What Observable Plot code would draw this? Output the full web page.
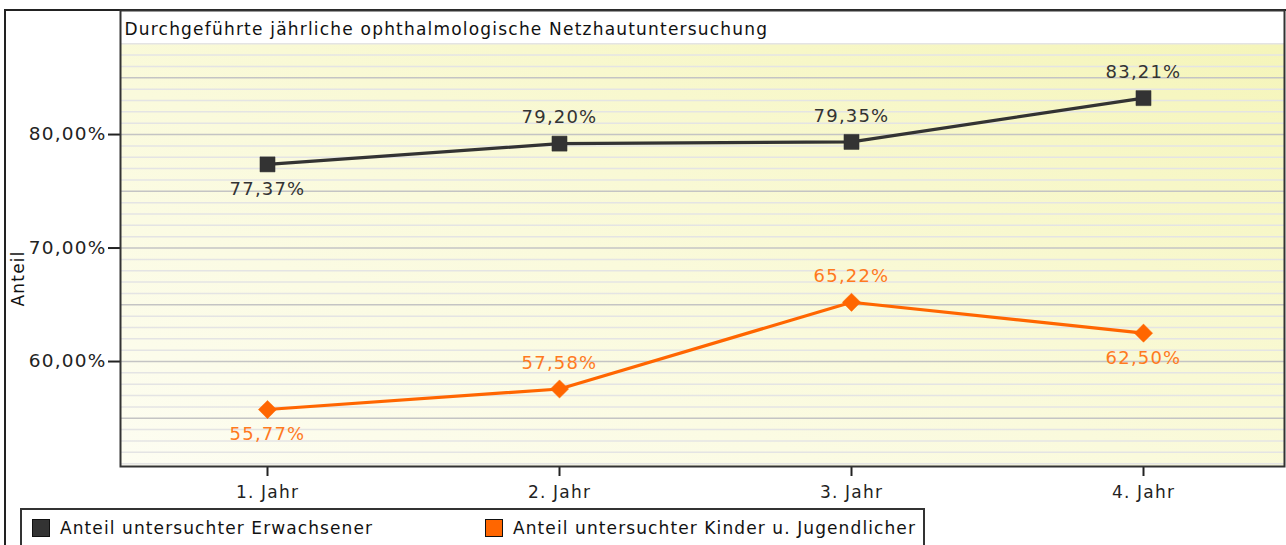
<!DOCTYPE html>
<html>
<head>
<meta charset="utf-8">
<script src="https://cdn.jsdelivr.net/npm/d3@7"></script>
<script src="https://cdn.jsdelivr.net/npm/@observablehq/plot@0.6"></script>
<style>
  html, body { margin: 0; padding: 0; background: #fff; }
  body { width: 1286px; height: 545px; position: relative; overflow: hidden; font-family: "DejaVu Sans", sans-serif; }
  #outer { position: absolute; left: 4px; top: 9px; width: 1300px; height: 600px; border: 2px solid #222; box-sizing: border-box; }
  #chart { position: absolute; left: 0; top: 0; }
  #legend { position: absolute; left: 20px; top: 508px; width: 905px; height: 60px; border: 2px solid #333; box-sizing: border-box; background: #fff; }
  .item { position: absolute; top: 8px; display: flex; align-items: center; font-size: 17px; letter-spacing: 1.1px; color: #111; }
  .sw { width: 18px; height: 18px; border: 1px solid #111; box-sizing: border-box; margin-right: 10px; }
</style>
</head>
<body>
<div id="outer"></div>
<div id="chart"></div>
<div id="legend"></div>
<script>
const title = "Durchgeführte jährliche ophthalmologische Netzhautuntersuchung";
const yLabel = "Anteil";
const years = ["1. Jahr", "2. Jahr", "3. Jahr", "4. Jahr"];
const adults = [77.37, 79.20, 79.35, 83.21];
const kids = [55.77, 57.58, 65.22, 62.50];
const seriesNames = ["Anteil untersuchter Erwachsener", "Anteil untersuchter Kinder u. Jugendlicher"];
const seriesColors = ["#333333", "#ff6600"];
const labelColors = ["#333333", "#ff7a1f"];
const yTicks = [60, 70, 80];
const yDomain = [50.75, 90.93];
const gridTop = 88;

const fmt = v => v.toFixed(2).replace(".", ",") + "%";

function rowsFor(values, s) {
  return values.map((v, i) => ({
    year: years[i], value: v, series: s,
    above: i > 0 && v > values[i - 1]
  }));
}
const adultRows = rowsFor(adults, 0);
const kidRows = rowsFor(kids, 1);

const background = (index, scales, values, dims) => {
  const g = d3.create("svg:g");
  const grad = g.append("defs").append("linearGradient")
    .attr("id", "bgGrad").attr("x1", 0).attr("y1", 1).attr("x2", 1).attr("y2", 0);
  grad.append("stop").attr("offset", "0%").attr("stop-color", "#fdfdf2");
  grad.append("stop").attr("offset", "45%").attr("stop-color", "#fafadc");
  grad.append("stop").attr("offset", "100%").attr("stop-color", "#f5f5ba");
  const top = scales.y(gridTop);
  g.append("rect")
    .attr("x", dims.marginLeft)
    .attr("y", top)
    .attr("width", dims.width - dims.marginLeft - dims.marginRight)
    .attr("height", dims.height - dims.marginBottom - top)
    .attr("fill", "url(#bgGrad)");
  return g.node();
};

const gridValues = d3.range(Math.ceil(yDomain[0]), gridTop + 1);

function seriesMarks(rows, s) {
  return [
    Plot.line(rows, {x: "year", y: "value", stroke: seriesColors[s], strokeWidth: 3.2}),
    Plot.dot(rows, {x: "year", y: "value", fill: seriesColors[s], stroke: seriesColors[s], strokeWidth: 0.5,
      symbol: s === 0 ? "square" : "diamond2", r: s === 0 ? 8.5 : 8.2}),
    Plot.text(rows.filter(d => d.above), {x: "year", y: "value", text: d => fmt(d.value), dy: -26,
      fill: labelColors[s], fontSize: 18}),
    Plot.text(rows.filter(d => !d.above), {x: "year", y: "value", text: d => fmt(d.value), dy: 25,
      fill: labelColors[s], fontSize: 18})
  ];
}

const chart = Plot.plot({
  width: 1286,
  height: 505,
  marginLeft: 120,
  marginRight: 2,
  marginTop: 10,
  marginBottom: 39,
  style: {fontFamily: "DejaVu Sans, sans-serif", fontSize: "16px", letterSpacing: "1.2px", color: "#222", background: "transparent", overflow: "visible"},
  x: {type: "point", domain: years, range: [121, 1289], padding: 0.5, axis: null},
  y: {domain: yDomain, axis: null},
  marks: [
    background,
    Plot.ruleY(gridValues, {stroke: d => d % 5 === 0 ? "#c4c4c4" : "#e4e4e4", strokeWidth: 1.5}),
    Plot.axisY(yTicks, {label: null, tickSize: 12, tickPadding: 2, tickFormat: fmt, fontSize: 18.5, stroke: "#222", strokeWidth: 2, fill: "#222"}),
    Plot.axisX(years, {label: null, tickSize: 10, tickPadding: 9, fontSize: 17, stroke: "#222", strokeWidth: 2, fill: "#222"}),
    Plot.frame({stroke: "#333", strokeWidth: 2}),
    ...seriesMarks(adultRows, 0),
    ...seriesMarks(kidRows, 1),
    Plot.text([title], {frameAnchor: "top-left", dx: 4, dy: 12, fontSize: 17, fill: "#111", textAnchor: "start", lineAnchor: "top"}),
    Plot.text([yLabel], {frameAnchor: "left", dx: -102, dy: 68, rotate: -90, fontSize: 17, fill: "#111"})
  ]
});
document.getElementById("chart").appendChild(chart);

const legend = d3.select("#legend");
const positions = [10, 463];
seriesNames.forEach((name, i) => {
  const it = legend.append("div").attr("class", "item").style("left", positions[i] + "px");
  it.append("div").attr("class", "sw").style("background", seriesColors[i]);
  it.append("span").text(name);
});
</script>
</body>
</html>
